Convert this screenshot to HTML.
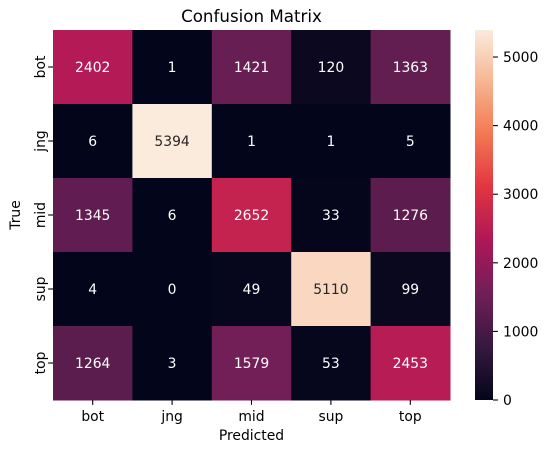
<!DOCTYPE html>
<html><head><meta charset="utf-8"><style>
body{margin:0;background:#fff;font-family:"Liberation Sans","DejaVu Sans",sans-serif;}
svg text{font-family:"DejaVu Sans","Liberation Sans",sans-serif;}
</style></head><body>
<svg id="c" width="548" height="453"></svg>
<script>
const categories=["bot","jng","mid","sup","top"];
const row_bot=[2402,1,1421,120,1363];
const row_jng=[6,5394,1,1,5];
const row_mid=[1345,6,2652,33,1276];
const row_sup=[4,0,49,5110,99];
const row_top=[1264,3,1579,53,2453];
const rows=[row_bot,row_jng,row_mid,row_sup,row_top];
const cbTicks=[0,1000,2000,3000,4000,5000];
const stops=[[0,[3,5,26]],[1/7,[0x35,0x19,0x3e]],[2/7,[0x70,0x1f,0x57]],[3/7,[0xad,0x17,0x59]],[4/7,[0xe1,0x33,0x42]],[5/7,[0xf3,0x76,0x51]],[6/7,[0xf6,0xb4,0x8f]],[1,[0xfa,0xeb,0xdd]]];
function cmap(t){t=Math.max(0,Math.min(1,t));for(let i=1;i<stops.length;i++){if(t<=stops[i][0]){const a=stops[i-1],b=stops[i],f=(t-a[0])/(b[0]-a[0]);return 'rgb('+a[1].map((v,k)=>Math.round(v+(b[1][k]-v)*f)).join(',')+')';}}return 'rgb(250,235,221)';}
const all=rows.flat();const vmin=Math.min(...all),vmax=Math.max(...all);
const X0=53,X1=450,Y0=30,Y1=400;
const cw=(X1-X0)/categories.length,rh=(Y1-Y0)/rows.length;
const xs=i=>X0+i*cw, ys=j=>Y0+j*rh;
const NS="http://www.w3.org/2000/svg";const svg=document.getElementById('c');
function mk(t,a,txt){const e=document.createElementNS(NS,t);for(const k in a)e.setAttribute(k,a[k]);if(txt!==undefined)e.textContent=txt;svg.appendChild(e);return e;}
rows.forEach((r,j)=>r.forEach((v,i)=>{
 const t=(v-vmin)/(vmax-vmin);
 const rc=mk('rect',{x:xs(i),y:ys(j),width:cw+0.5,height:rh+0.5,fill:cmap(t)});
 
 
 const tx=mk('text',{x:xs(i)+cw/2,y:ys(j)+rh/2+5,'text-anchor':'middle','font-size':13.9,fill:t>0.6?'#262626':'#fff'},String(v));
 
 
}));
categories.forEach((c,i)=>{
 const x=xs(i)+cw/2;
 mk('line',{x1:x,x2:x,y1:Y1,y2:Y1+4.9,stroke:'#000','stroke-width':1.1});
 const t=mk('text',{x:x,y:Y1+21,'text-anchor':'middle','font-size':13.9,fill:'#000'},c);
 
 
 const y=ys(i)+rh/2;
 mk('line',{x1:X0-4.9,x2:X0,y1:y,y2:y,stroke:'#000','stroke-width':1.1});
 const u=mk('text',{x:0,y:0,'text-anchor':'middle','font-size':13.9,fill:'#000',transform:`translate(${X0-8},${y}) rotate(-90)`},c);
 
 
});
const t1=mk('text',{x:(X0+X1)/2,y:440,'text-anchor':'middle','font-size':13.9},'Predicted');

const t2=mk('text',{x:0,y:0,'text-anchor':'middle','font-size':13.9,transform:`translate(20,${(Y0+Y1)/2}) rotate(-90)`},'True');

const t3=mk('text',{x:(X0+X1)/2,y:22,'text-anchor':'middle','font-size':16.7},'Confusion Matrix');

const CX=475,CW=18;
const defs=mk('defs',{});const g=document.createElementNS(NS,'linearGradient');g.setAttribute('id','gr');g.setAttribute('x1','0');g.setAttribute('y1','1');g.setAttribute('x2','0');g.setAttribute('y2','0');defs.appendChild(g);
for(let k=0;k<=40;k++){const s=document.createElementNS(NS,'stop');s.setAttribute('offset',k/40);s.setAttribute('stop-color',cmap(k/40));g.appendChild(s);}
const cb=mk('rect',{x:CX,y:Y0,width:CW,height:Y1-Y0,fill:'url(#gr)'});

const cy=v=>Y1-(v-vmin)/(vmax-vmin)*(Y1-Y0);
cbTicks.forEach(v=>{const y=cy(v);
 mk('line',{x1:CX+CW,x2:CX+CW+4.9,y1:y,y2:y,stroke:'#000','stroke-width':1.1});
 const t=mk('text',{x:CX+CW+10,y:y+5,'font-size':13.9},String(v));
 
});
</script>
</body></html>
